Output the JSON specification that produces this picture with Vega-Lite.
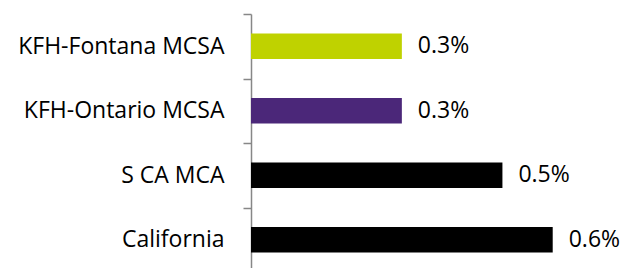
{
  "$schema": "https://vega.github.io/schema/vega-lite/v6.json",
  "autosize": "none",
  "padding": {"left": 251, "top": 14, "right": 33, "bottom": 0},
  "width": 352,
  "height": {"step": 64.5},
  "background": "white",
  "data": {"values": [
    {"region": "KFH-Fontana MCSA", "rate": 0.003, "color": "#BFD200"},
    {"region": "KFH-Ontario MCSA", "rate": 0.003, "color": "#4B2779"},
    {"region": "S CA MCA", "rate": 0.005, "color": "#000000"},
    {"region": "California", "rate": 0.006, "color": "#000000"}
  ]},
  "encoding": {
    "y": {
      "field": "region", "type": "nominal", "sort": null,
      "scale": {"paddingInner": 0, "paddingOuter": 0},
      "axis": {
        "title": null, "tickBand": "extent", "ticks": true, "tickSize": 8, "labelPadding": 19, "labelLimit": 0,
        "domainColor": "#878787", "tickColor": "#878787", "domainWidth": 1.5, "tickWidth": 1.5,
        "labelFont": "Open Sans", "labelFontSize": 23, "labelColor": "#000000", "grid": false
      }
    },
    "x": {
      "field": "rate", "type": "quantitative",
      "scale": {"domain": [0, 0.007], "nice": false, "zero": true},
      "axis": null
    }
  },
  "layer": [
    {"mark": {"type": "bar", "height": {"band": 0.395}}, "encoding": {"color": {"field": "color", "type": "nominal", "scale": null}}},
    {"mark": {"type": "text", "align": "left", "baseline": "middle", "dx": 16, "font": "Open Sans", "fontSize": 23, "color": "#000000"},
     "encoding": {"text": {"field": "rate", "type": "quantitative", "format": ".1%"}}}
  ],
  "config": {"view": {"stroke": null}}
}
